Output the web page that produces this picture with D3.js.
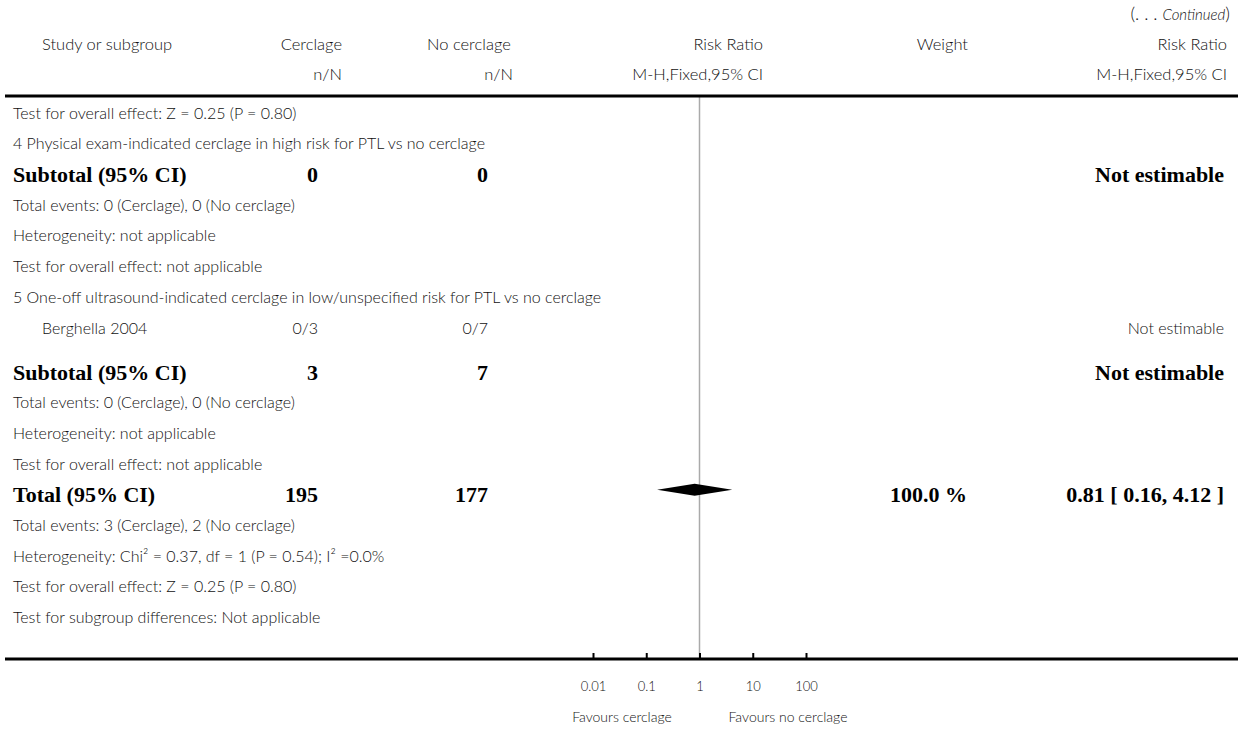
<!DOCTYPE html>
<html>
<head>
<meta charset="utf-8">
<script src="https://cdn.jsdelivr.net/npm/d3@7"></script>
<style>
  body { margin: 0; background: #fff; }
  .reg { font-family: Lato, "Open Sans", sans-serif; font-weight: 300; font-size: 16px; fill: #111; }
  .hd { font-size: 16.5px; }
  .bold { font-family: "Liberation Serif", serif; font-weight: bold; font-size: 22px; fill: #000; }
  .tick text { font-family: Lato, sans-serif; font-weight: 300; font-size: 13px; fill: #111; }
</style>
</head>
<body>
<div id="chart"></div>
<script>
    // rows of the continued forest plot
    var rowLabels = [
        "Test for overall effect: Z = 0.25 (P = 0.80)",
        "4 Physical exam-indicated cerclage in high risk for PTL vs no cerclage",
        "Subtotal (95% CI)",
        "Total events: 0 (Cerclage), 0 (No cerclage)",
        "Heterogeneity: not applicable",
        "Test for overall effect: not applicable",
        "5 One-off ultrasound-indicated cerclage in low/unspecified risk for PTL vs no cerclage",
        "Berghella 2004",
        "Subtotal (95% CI)",
        "Total events: 0 (Cerclage), 0 (No cerclage)",
        "Heterogeneity: not applicable",
        "Test for overall effect: not applicable",
        "Total (95% CI)",
        "Total events: 3 (Cerclage), 2 (No cerclage)",
        "Heterogeneity: Chi² = 0.37, df = 1 (P = 0.54); I² =0.0%",
        "Test for overall effect: Z = 0.25 (P = 0.80)",
        "Test for subgroup differences: Not applicable"
    ];
    var rowKinds = ["note", "group", "subtotal", "note", "note", "note", "group", "study",
        "subtotal", "note", "note", "note", "total", "note", "note", "note", "note"];
    var cerclage = ["", "", "0", "", "", "", "", "0/3", "3", "", "", "", "195", "", "", "", ""];
    var noCerclage = ["", "", "0", "", "", "", "", "0/7", "7", "", "", "", "177", "", "", "", ""];
    var weights = ["", "", "", "", "", "", "", "", "", "", "", "", "100.0 %", "", "", "", ""];
    var riskRatios = ["", "", "Not estimable", "", "", "", "", "Not estimable", "Not estimable",
        "", "", "", "0.81 [ 0.16, 4.12 ]", "", "", "", ""];

    // pooled estimate (diamond)
    var totalRR = [0.81];
    var totalLow = [0.16];
    var totalHigh = [4.12];

    var tickValues = [0.01, 0.1, 1, 10, 100];
    var tickLabels = ["0.01", "0.1", "1", "10", "100"];

    var w = 1248,
        h = 730,
        left = 5,
        right = 1238,
        headY = 96,       // header rule
        axisY = 659,      // bottom rule / axis
        firstRow = 113,
        rowStep = 30.7;

    var x = d3.scaleLog()
        .domain([0.01, 100])
        .range([593, 806]);

    // row centres, a bit more room after a study line
    var rowY = [];
    var yy = firstRow;
    rowKinds.forEach(function (k, i) {
        if (i > 0) {
            yy += rowStep;
            if (rowKinds[i - 1] === "study") yy += 13.3;
        }
        rowY.push(yy);
    });

    var svg = d3.select("#chart")
        .append("svg")
        .attr("width", w)
        .attr("height", h);

    // header
    var head = svg.append("g").attr("class", "reg hd");
    var cont = head.append("text")
        .attr("x", 1230).attr("y", 20)
        .attr("text-anchor", "end")
        .style("font-size", "18px");
    cont.append("tspan").text("(. . . ");
    cont.append("tspan").style("font-style", "italic").style("font-size", "15px").text("Continued");
    cont.append("tspan").text(")");

    var headers = [
        { t: "Study or subgroup", x: 42, a: "start", y: 50 },
        { t: "Cerclage", x: 342, a: "end", y: 50 },
        { t: "No cerclage", x: 427, a: "start", y: 50 },
        { t: "Risk Ratio", x: 763, a: "end", y: 50 },
        { t: "Weight", x: 968, a: "end", y: 50 },
        { t: "Risk Ratio", x: 1227, a: "end", y: 50 },
        { t: "n/N", x: 342, a: "end", y: 80 },
        { t: "n/N", x: 513, a: "end", y: 80 },
        { t: "M-H,Fixed,95% CI", x: 763, a: "end", y: 80 },
        { t: "M-H,Fixed,95% CI", x: 1227, a: "end", y: 80 }
    ];
    head.selectAll("text.h")
        .data(headers)
        .enter().append("text")
        .attr("class", "h")
        .attr("x", function (d) { return d.x; })
        .attr("y", function (d) { return d.y; })
        .attr("text-anchor", function (d) { return d.a; })
        .text(function (d) { return d.t; });

    // null line
    svg.append("line")
        .attr("x1", x(1)).attr("x2", x(1))
        .attr("y1", headY).attr("y2", axisY)
        .attr("stroke", "#aaa")
        .attr("stroke-width", 1.5);

    // header rule
    svg.append("line")
        .attr("x1", left).attr("x2", right)
        .attr("y1", headY).attr("y2", headY)
        .attr("stroke", "#000").attr("stroke-width", 3);

    // rows
    var rows = svg.append("g");
    var isBold = function (i) { return rowKinds[i] === "subtotal" || rowKinds[i] === "total"; };

    rows.selectAll("text.label")
        .data(rowLabels)
        .enter().append("text")
        .attr("class", function (d, i) { return isBold(i) ? "bold" : "reg"; })
        .attr("x", function (d, i) { return rowKinds[i] === "study" ? 42 : 13; })
        .attr("y", function (d, i) { return rowY[i]; })
        .attr("dy", "0.35em")
        .text(function (d) { return d; });

    function col(data, xr) {
        data.forEach(function (d, i) {
            if (d === "") return;
            rows.append("text")
                .attr("class", isBold(i) ? "bold" : "reg")
                .attr("x", xr)
                .attr("y", rowY[i])
                .attr("dy", "0.35em")
                .attr("text-anchor", "end")
                .text(d);
        });
    }
    col(cerclage, 318);
    col(noCerclage, 488);
    col(weights, 967);
    col(riskRatios, 1224);

    // diamond for the pooled result
    var ti = rowKinds.indexOf("total");
    var dy0 = rowY[ti] - 5;
    svg.selectAll("path.diamond")
        .data(totalRR)
        .enter().append("path")
        .attr("class", "diamond")
        .attr("fill", "#000")
        .attr("d", function (d, i) {
            return "M" + x(totalLow[i]) + "," + dy0 +
                "L" + x(d) + "," + (dy0 - 6) +
                "L" + x(totalHigh[i]) + "," + dy0 +
                "L" + x(d) + "," + (dy0 + 6) + "Z";
        });

    // bottom axis
    var axis = d3.axisBottom(x)
        .tickValues(tickValues)
        .tickFormat(function (d, i) { return tickLabels[i]; })
        .tickSizeInner(-6)
        .tickSizeOuter(0)
        .tickPadding(23);
    var ax = svg.append("g")
        .attr("transform", "translate(0," + axisY + ")")
        .call(axis);
    ax.select(".domain").remove();
    ax.selectAll(".tick line").attr("stroke", "#000").attr("stroke-width", 2);

    svg.append("line")
        .attr("x1", left).attr("x2", right)
        .attr("y1", axisY).attr("y2", axisY)
        .attr("stroke", "#000").attr("stroke-width", 3);

    svg.append("text").attr("class", "reg")
        .style("font-size", "14px")
        .attr("x", 622).attr("y", 717).attr("dy", "0.35em")
        .attr("text-anchor", "middle")
        .text("Favours cerclage");
    svg.append("text").attr("class", "reg")
        .style("font-size", "14px")
        .attr("x", 788).attr("y", 717).attr("dy", "0.35em")
        .attr("text-anchor", "middle")
        .text("Favours no cerclage");
</script>
</body>
</html>
